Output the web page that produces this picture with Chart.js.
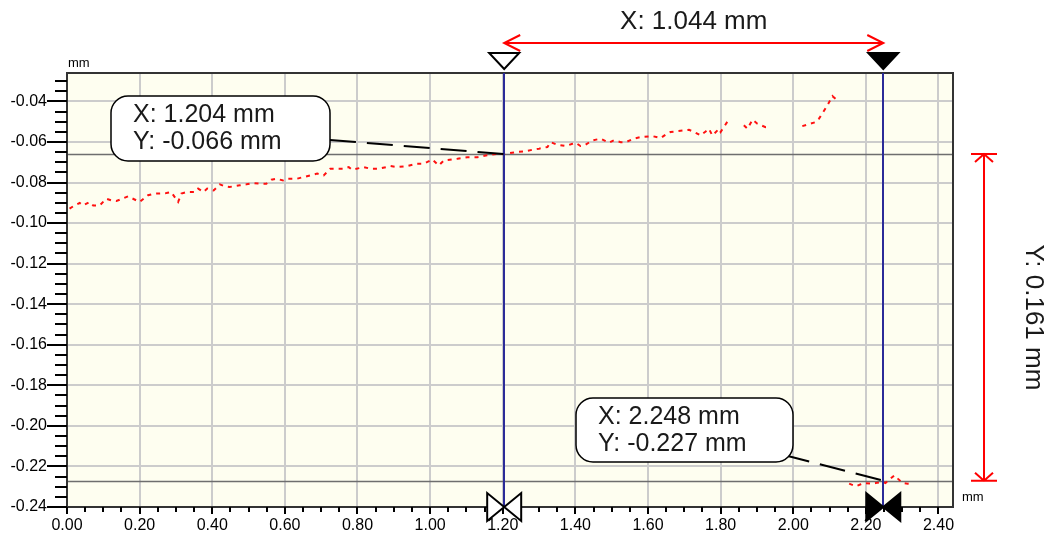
<!DOCTYPE html>
<html>
<head>
<meta charset="utf-8">
<script src="https://cdn.jsdelivr.net/npm/chart.js@4.4.1/dist/chart.umd.min.js"></script>
<style>
  html, body { margin: 0; padding: 0; background: #ffffff; }
  #wrap { width: 1052px; height: 539px; }
</style>
</head>
<body>
<div id="wrap"><canvas id="c" width="1052" height="539"></canvas></div>
<script>
// Surface profile trace (mm). A null value breaks the trace where the scan has no data.
const profileX = [
  0.007, 0.021, 0.035, 0.044, 0.062, 0.072, 0.090, 0.108, 0.122, 0.136, 0.145, 0.168,
  0.200, 0.223, 0.241, 0.274, 0.287, 0.306, 0.315, 0.329, 0.352, 0.361, 0.376, 0.386,
  0.404, 0.421, 0.434, 0.448, 0.476, 0.494, 0.512, 0.531, 0.549, 0.563, 0.577, 0.595,
  0.606, 0.634, 0.689, 0.707, 0.725, 0.762, 0.776, 0.785, 0.817, 0.836, 0.859, 0.891,
  0.909, 0.937, 0.964, 0.983, 1.006, 1.024, 1.038, 1.075, 1.102, 1.130, 1.157, 1.185,
  1.204, 1.236, 1.258, 1.286, 1.300, 1.323, 1.332, 1.350, 1.373, 1.392, 1.401, 1.414,
  1.428, 1.447, 1.470, 1.492, 1.506, 1.525, 1.539, 1.561, 1.580, 1.612, 1.635, 1.653,
  1.662, 1.699, 1.713, 1.727, 1.745, 1.759, 1.768, 1.777, 1.796, 1.800, 1.819, 1.840,
  1.864, 1.874, 1.888, 1.901, 1.924, 1.938, 1.980, 2.025, 2.062, 2.071, 2.094, 2.108,
  2.122, 2.140, 2.154, 2.172, 2.186, 2.195, 2.214, 2.227, 2.248, 2.254, 2.268, 2.279,
  2.288, 2.301, 2.315, 2.324
];
const profileY = [
  -0.0929, -0.0913, -0.0901, -0.0913, -0.0896, -0.0913, -0.0913, -0.0880, -0.0888, -0.0891, -0.0885, -0.0868,
  -0.0896, -0.0863, -0.0855, -0.0852, -0.0847, -0.0896, -0.0855, -0.0847, -0.0847, -0.0830, -0.0847, -0.0830,
  -0.0839, -0.0809, -0.0819, -0.0822, -0.0814, -0.0809, -0.0803, -0.0806, -0.0806, -0.0786, -0.0781, -0.0790,
  -0.0781, -0.0781, -0.0756, -0.0765, -0.0732, -0.0732, -0.0724, -0.0737, -0.0724, -0.0732, -0.0732, -0.0719,
  -0.0724, -0.0719, -0.0707, -0.0707, -0.0686, -0.0716, -0.0691, -0.0683, -0.0675, -0.0675, -0.0666, -0.0658,
  -0.0660, -0.0650, -0.0647, -0.0637, -0.0633, -0.0625, -0.0601, -0.0614, -0.0620, -0.0609, -0.0604, -0.0620,
  -0.0614, -0.0592, -0.0584, -0.0604, -0.0592, -0.0601, -0.0601, -0.0584, -0.0576, -0.0571, -0.0581, -0.0559,
  -0.0551, -0.0543, -0.0540, -0.0551, -0.0568, -0.0548, -0.0535, -0.0568, -0.0535, -0.0551, -0.0499, null,
  -0.0518, -0.0535, -0.0490, -0.0510, -0.0527, -0.0522, null, -0.0522, -0.0502, -0.0485, -0.0420, -0.0374,
  -0.0395, null, -0.2285, -0.2298, -0.2288, -0.2282, -0.2285, -0.2282, -0.2277, -0.2282, -0.2260, -0.2244,
  -0.2260, -0.2282, -0.2285, -0.2282
];

// Axis tick labels
const xTickLabels = [0.00, 0.20, 0.40, 0.60, 0.80, 1.00, 1.20, 1.40, 1.60, 1.80, 2.00, 2.20, 2.40];
const yTickLabels = [-0.24, -0.22, -0.20, -0.18, -0.16, -0.14, -0.12, -0.10, -0.08, -0.06, -0.04];

// Measurement cursors: first (open marker) and second (filled marker)
const cursorX = [1.204, 2.248];
const cursorY = [-0.066, -0.227];

const X_MIN = 0, X_MAX = 2.44, Y_MIN = -0.24, Y_MAX = -0.026;
const FONT = '"Liberation Sans", Arial, sans-serif';

function drawTriangleDown(ctx, cx, filled) {
  ctx.beginPath();
  ctx.moveTo(cx - 15, 53);
  ctx.lineTo(cx + 15, 53);
  ctx.lineTo(cx, 69);
  ctx.closePath();
  ctx.fillStyle = filled ? '#000' : '#fff';
  ctx.fill();
  ctx.lineWidth = 2;
  ctx.strokeStyle = '#000';
  ctx.stroke();
}

function drawBowtie(ctx, cx, cy, filled) {
  ctx.fillStyle = filled ? '#000' : '#fff';
  ctx.strokeStyle = '#000';
  ctx.lineWidth = 2;
  [-1, 1].forEach(s => {
    ctx.beginPath();
    ctx.moveTo(cx + s * 17, cy - 14);
    ctx.lineTo(cx + s * 17, cy + 14);
    ctx.lineTo(cx, cy);
    ctx.closePath();
    ctx.fill();
    ctx.stroke();
  });
}

function drawCallout(ctx, box, lines, from, to) {
  // leader line from the box to the cursor point
  ctx.save();
  ctx.strokeStyle = '#000';
  ctx.lineWidth = 2;
  ctx.setLineDash([26, 11]);
  ctx.beginPath();
  ctx.moveTo(from[0], from[1]);
  ctx.lineTo(to[0], to[1]);
  ctx.stroke();
  ctx.restore();

  ctx.beginPath();
  ctx.roundRect(box.x, box.y, box.w, box.h, 17);
  ctx.fillStyle = '#fff';
  ctx.fill();
  ctx.lineWidth = 1.5;
  ctx.strokeStyle = '#000';
  ctx.stroke();

  ctx.fillStyle = '#1a1a1a';
  ctx.font = '25px ' + FONT;
  ctx.textAlign = 'left';
  ctx.textBaseline = 'middle';
  ctx.fillText(lines[0], box.x + 22, box.y + 19);
  ctx.fillText(lines[1], box.x + 22, box.y + 46);
}

const plotDecor = {
  id: 'plotDecor',
  beforeDraw(chart) {
    const { ctx, chartArea: a } = chart;
    ctx.save();
    ctx.fillStyle = '#fefef0';
    ctx.fillRect(a.left, a.top, a.right - a.left, a.bottom - a.top);
    ctx.restore();
  },
  beforeDatasetsDraw(chart) {
    const { ctx, chartArea: a, scales: { y } } = chart;
    ctx.save();
    ctx.strokeStyle = '#6e6e6e';
    ctx.lineWidth = 1.5;
    cursorY.forEach(v => {
      const py = Math.round(y.getPixelForValue(v)) + 0.5;
      ctx.beginPath();
      ctx.moveTo(a.left, py);
      ctx.lineTo(a.right, py);
      ctx.stroke();
    });
    ctx.restore();
  },
  afterDraw(chart) {
    const { ctx, chartArea: a, scales: { x, y } } = chart;
    ctx.save();

    // plot frame
    ctx.strokeStyle = '#333';
    ctx.lineWidth = 2;
    ctx.strokeRect(a.left, a.top, a.right - a.left, a.bottom - a.top);

    // axis tick marks: major every label, minor in between
    ctx.strokeStyle = '#000';
    ctx.lineWidth = 2;
    for (let k = 0; ; k++) {
      const v = Y_MIN + k * 0.005;
      if (v > Y_MAX + 1e-9) break;
      const py = Math.round(y.getPixelForValue(v));
      const len = (k % 4 === 0) ? 20 : 12;
      ctx.beginPath();
      ctx.moveTo(a.left - len, py);
      ctx.lineTo(a.left, py);
      ctx.stroke();
    }
    for (let k = 0; ; k++) {
      const v = X_MIN + k * 0.05;
      if (v > X_MAX + 1e-9) break;
      const px = Math.round(x.getPixelForValue(v));
      const len = (k % 4 === 0) ? 7 : 5;
      ctx.beginPath();
      ctx.moveTo(px, a.bottom);
      ctx.lineTo(px, a.bottom + len);
      ctx.stroke();
    }

    // unit labels
    ctx.fillStyle = '#000';
    ctx.font = '13px ' + FONT;
    ctx.textAlign = 'left';
    ctx.textBaseline = 'alphabetic';
    ctx.fillText('mm', 68, 67);
    ctx.fillText('mm', 962, 501);

    const px1 = x.getPixelForValue(cursorX[0]);
    const px2 = x.getPixelForValue(cursorX[1]);
    const py1 = y.getPixelForValue(cursorY[0]);
    const py2 = y.getPixelForValue(cursorY[1]);

    // vertical cursor lines
    ctx.strokeStyle = '#2b2b98';
    ctx.lineWidth = 2;
    [px1, px2].forEach(px => {
      ctx.beginPath();
      ctx.moveTo(Math.round(px), a.top);
      ctx.lineTo(Math.round(px), a.bottom);
      ctx.stroke();
    });

    // cursor markers above and below the plot
    drawTriangleDown(ctx, px1, false);
    drawTriangleDown(ctx, px2, true);
    drawBowtie(ctx, px1, a.bottom, false);
    drawBowtie(ctx, px2, a.bottom, true);

    // horizontal distance between cursors
    ctx.strokeStyle = '#ff0000';
    ctx.lineWidth = 2;
    const ay = 43;
    ctx.beginPath();
    ctx.moveTo(px1, ay); ctx.lineTo(px2, ay);
    ctx.moveTo(px1 + 16, ay - 8); ctx.lineTo(px1, ay); ctx.lineTo(px1 + 16, ay + 8);
    ctx.moveTo(px2 - 16, ay - 8); ctx.lineTo(px2, ay); ctx.lineTo(px2 - 16, ay + 8);
    ctx.stroke();

    // vertical distance between cursors
    const ax = 984;
    ctx.beginPath();
    ctx.moveTo(ax, py1); ctx.lineTo(ax, py2);
    ctx.moveTo(ax - 13, py1); ctx.lineTo(ax + 13, py1);
    ctx.moveTo(ax - 13, py2); ctx.lineTo(ax + 13, py2);
    ctx.moveTo(ax - 9, py1 + 8); ctx.lineTo(ax, py1); ctx.lineTo(ax + 9, py1 + 8);
    ctx.moveTo(ax - 9, py2 - 8); ctx.lineTo(ax, py2); ctx.lineTo(ax + 9, py2 - 8);
    ctx.stroke();

    const dx = (cursorX[1] - cursorX[0]).toFixed(3);
    const dy = (cursorY[0] - cursorY[1]).toFixed(3);
    ctx.fillStyle = '#1a1a1a';
    ctx.font = '26px ' + FONT;
    ctx.textAlign = 'center';
    ctx.textBaseline = 'middle';
    ctx.fillText('X: ' + dx + ' mm', (px1 + px2) / 2, 22);

    ctx.save();
    ctx.translate(1033, (py1 + py2) / 2);
    ctx.rotate(Math.PI / 2);
    ctx.fillText('Y: ' + dy + ' mm', 0, 0);
    ctx.restore();

    // value callouts
    drawCallout(ctx, { x: 111, y: 96, w: 219, h: 65 },
      ['X: ' + cursorX[0].toFixed(3) + ' mm', 'Y: ' + cursorY[0].toFixed(3) + ' mm'],
      [330, 140], [px1, py1]);
    drawCallout(ctx, { x: 576, y: 398, w: 217, h: 64 },
      ['X: ' + cursorX[1].toFixed(3) + ' mm', 'Y: ' + cursorY[1].toFixed(3) + ' mm'],
      [784, 455], [px2, py2]);

    ctx.restore();
  }
};

new Chart(document.getElementById('c'), {
  type: 'line',
  data: {
    datasets: [{
      data: profileX.map((v, i) => ({ x: v, y: profileY[i] })),
      borderColor: '#ff1010',
      borderWidth: 2,
      borderDash: [4, 5],
      pointRadius: 0,
      spanGaps: false,
      tension: 0
    }]
  },
  options: {
    responsive: false,
    animation: false,
    layout: { padding: { top: 73, right: 99, left: 0, bottom: 0 } },
    plugins: { legend: { display: false }, tooltip: { enabled: false } },
    scales: {
      x: {
        type: 'linear',
        min: X_MIN, max: X_MAX,
        afterBuildTicks: s => { s.ticks = xTickLabels.map(v => ({ value: v })); },
        afterFit: s => { s.height = 32; },
        border: { display: true, color: '#000', width: 2 },
        grid: { color: '#cccccc', lineWidth: 2, drawTicks: false },
        ticks: {
          autoSkip: false, maxRotation: 0, padding: 9, color: '#000',
          font: { family: FONT, size: 16 },
          callback: v => Number(v).toFixed(2)
        }
      },
      y: {
        type: 'linear',
        min: Y_MIN, max: Y_MAX,
        afterBuildTicks: s => { s.ticks = yTickLabels.map(v => ({ value: v })); },
        afterFit: s => { s.width = 67; },
        border: { display: true, color: '#000', width: 2 },
        grid: { color: '#cccccc', lineWidth: 2, drawTicks: false },
        ticks: {
          autoSkip: false, padding: 20, color: '#000',
          font: { family: FONT, size: 16 },
          callback: v => Number(v).toFixed(2)
        }
      }
    }
  },
  plugins: [plotDecor]
});
</script>
</body>
</html>
